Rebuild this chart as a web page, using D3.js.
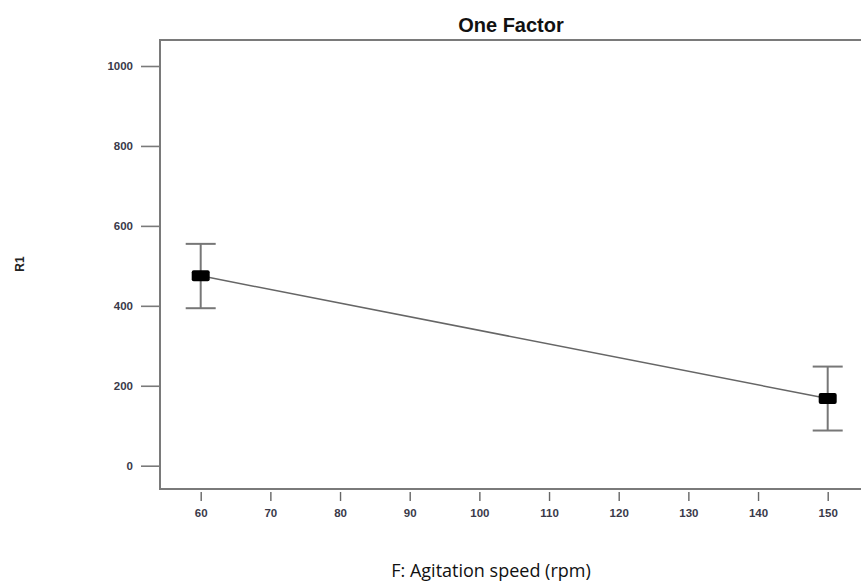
<!DOCTYPE html>
<html>
<head>
<meta charset="utf-8">
<script src="https://cdn.jsdelivr.net/npm/d3@7"></script>
<style>
  body { margin: 0; background: #fff; }
  svg { display: block; }
</style>
</head>
<body>
<svg width="861" height="585"></svg>
<script>
// data
var speeds = [60, 150];
var means = [475, 168];
var lower = [394, 88];
var upper = [555, 248];
var xTicks = [60, 70, 80, 90, 100, 110, 120, 130, 140, 150];
var yTicks = [0, 200, 400, 600, 800, 1000];

var svg = d3.select("svg");

// frame of the plot (right side runs off the picture)
var frameLeft = 160, frameTop = 40, frameBottom = 489, frameRight = 900;

var x = d3.scaleLinear().domain([60, 150]).range([200.7, 827.7]);
var y = d3.scaleLinear().domain([0, 1000]).range([465.7, 66]);

var axisColor = "#7a7a7a";

// left, top and bottom edges only
svg.append("path")
    .attr("d", "M" + frameRight + "," + frameTop + "H" + frameLeft + "V" + frameBottom + "H" + frameRight)
    .attr("fill", "none")
    .attr("stroke", axisColor)
    .attr("stroke-width", 2);

var tickFont = "bold 11.5px Arial, 'Liberation Sans', sans-serif";

// y ticks
var yAxis = d3.axisLeft(y)
    .tickValues(yTicks)
    .tickFormat(d3.format("d"))
    .tickSize(19)
    .tickPadding(8);

var gy = svg.append("g")
    .attr("transform", "translate(" + frameLeft + ",0)")
    .call(yAxis);
gy.select(".domain").remove();
gy.selectAll(".tick line").attr("stroke", axisColor).attr("stroke-width", 1.6);
gy.selectAll(".tick text")
    .attr("fill", "#3a3a4a")
    .style("font", tickFont);

// x ticks (small, offset below axis)
var xAxis = d3.axisBottom(x)
    .tickValues(xTicks)
    .tickSize(9)
    .tickPadding(8);

var gx = svg.append("g")
    .attr("transform", "translate(0," + (frameBottom + 3) + ")")
    .call(xAxis);
gx.select(".domain").remove();
gx.selectAll(".tick line").attr("stroke", "#666").attr("stroke-width", 1.4);
gx.selectAll(".tick text")
    .attr("fill", "#3a3a4a")
    .style("font", tickFont);

// connecting line
var points = speeds.map(function(s, i) { return { x: s, m: means[i], lo: lower[i], hi: upper[i] }; });

svg.append("path")
    .datum(points)
    .attr("fill", "none")
    .attr("stroke", "#666")
    .attr("stroke-width", 1.5)
    .attr("d", d3.line().x(d => x(d.x)).y(d => y(d.m)));

// error bars
var eb = svg.selectAll(".eb")
    .data(points)
    .enter()
    .append("g")
    .classed("eb", true);

eb.append("line")
    .attr("x1", d => x(d.x)).attr("x2", d => x(d.x))
    .attr("y1", d => y(d.lo)).attr("y2", d => y(d.hi))
    .attr("stroke", "#777").attr("stroke-width", 2);

eb.append("line")
    .attr("x1", d => x(d.x) - 15).attr("x2", d => x(d.x) + 15)
    .attr("y1", d => y(d.lo)).attr("y2", d => y(d.lo))
    .attr("stroke", "#777").attr("stroke-width", 2);

eb.append("line")
    .attr("x1", d => x(d.x) - 15).attr("x2", d => x(d.x) + 15)
    .attr("y1", d => y(d.hi)).attr("y2", d => y(d.hi))
    .attr("stroke", "#777").attr("stroke-width", 2);

// square markers
eb.append("rect")
    .attr("x", d => x(d.x) - 9)
    .attr("y", d => y(d.m) - 5.5)
    .attr("width", 18)
    .attr("height", 11)
    .attr("rx", 2)
    .attr("fill", "#000");

// title
svg.append("text")
    .attr("x", 511)
    .attr("y", 32)
    .attr("text-anchor", "middle")
    .attr("fill", "#111")
    .style("font", "bold 20px Arial, 'Liberation Sans', sans-serif")
    .text("One Factor");

// y label
svg.append("text")
    .attr("transform", "translate(24,264) rotate(-90)")
    .attr("text-anchor", "middle")
    .attr("fill", "#222")
    .style("font", "bold 12px Arial, 'Liberation Sans', sans-serif")
    .text("R1");

// x label
svg.append("text")
    .attr("x", 491)
    .attr("y", 577)
    .attr("text-anchor", "middle")
    .attr("fill", "#111")
    .style("font", "18px 'Open Sans', sans-serif")
    .text("F: Agitation speed (rpm)");
</script>
</body>
</html>
